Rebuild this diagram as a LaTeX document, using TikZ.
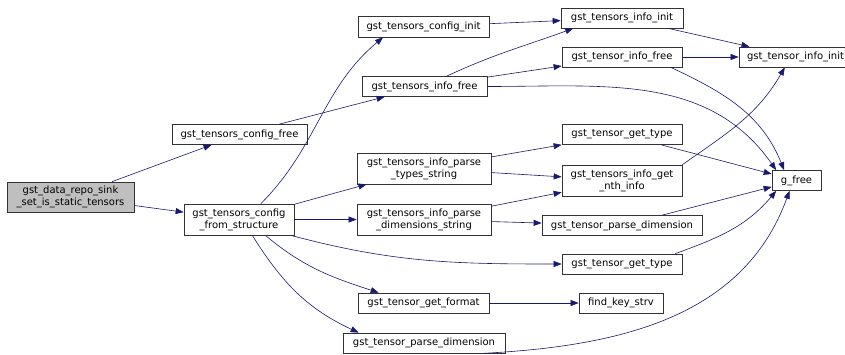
\documentclass[tikz,border=0pt]{standalone}
\usepackage{fontspec}
\setmainfont{DejaVu Sans}
\usetikzlibrary{arrows.meta}
\definecolor{edgeblue}{HTML}{191970}
\definecolor{rootgray}{HTML}{BFBFBF}

\begin{document}
\begin{tikzpicture}[x=1pt, y=1pt,
    fn/.style={draw=black!80, fill=white, line width=0.7pt, inner sep=0pt,
               font=\fontsize{10}{12}\selectfont, align=center},
    root/.style={fn, fill=rootgray},
    call/.style={draw=edgeblue, line width=0.6pt, -{Triangle[length=8pt, width=6pt]}},
]
\useasboundingbox (0,0) rectangle (845,-354);

% Caller (left)
\node[root, minimum width=127, minimum height=30] (sink) at (70.5,-197)
  {gst\_data\_repo\_sink\\\_set\_is\_static\_tensors};

% Second column
\node[fn, minimum width=135, minimum height=20] (cfree) at (239.5,-134.5) {gst\_tensors\_config\_free};
\node[fn, minimum width=110, minimum height=31] (fs) at (239,-219.5) {gst\_tensors\_config\\\_from\_structure};

% Third column
\node[fn, minimum width=131, minimum height=21] (cinit) at (423.5,-26.5) {gst\_tensors\_config\_init};
\node[fn, minimum width=125, minimum height=20] (tif) at (424.5,-86.5) {gst\_tensors\_info\_free};
\node[fn, minimum width=134, minimum height=31] (types) at (424,-168.5) {gst\_tensors\_info\_parse\\\_types\_string};
\node[fn, minimum width=134, minimum height=31] (dims) at (424,-219.5) {gst\_tensors\_info\_parse\\\_dimensions\_string};
\node[fn, minimum width=131, minimum height=20] (gfmt) at (423.5,-303) {gst\_tensor\_get\_format};
\node[fn, minimum width=162, minimum height=20] (pdb) at (424,-343) {gst\_tensor\_parse\_dimension};

% Fourth column
\node[fn, minimum width=122, minimum height=20] (tiinit) at (622,-18) {gst\_tensors\_info\_init};
\node[fn, minimum width=120, minimum height=20] (tifree) at (622,-57) {gst\_tensor\_info\_free};
\node[fn, minimum width=120, minimum height=20] (gta) at (622,-134.5) {gst\_tensor\_get\_type};
\node[fn, minimum width=120, minimum height=31] (nth) at (622,-180.5) {gst\_tensors\_info\_get\\\_nth\_info};
\node[fn, minimum width=160, minimum height=20] (pda) at (622,-225.5) {gst\_tensor\_parse\_dimension};
\node[fn, minimum width=120, minimum height=20] (gtb) at (622,-264) {gst\_tensor\_get\_type};
\node[fn, minimum width=84, minimum height=20] (fks) at (621,-303) {find\_key\_strv};

% Last column
\node[fn, minimum width=113, minimum height=20] (tinit) at (795.5,-57) {gst\_tensor\_info\_init};
\node[fn, minimum width=49, minimum height=20] (gfree) at (796.5,-180.5) {g\_free};

% Calls
\draw[call] (sink) -- (cfree);
\draw[call] (sink) -- (fs);
\draw[call] (cfree) -- (tif);
\draw[call] (fs.36) to[out=45, in=220] (cinit.195);
\draw[call] (fs) -- (types);
\draw[call] (fs) -- (dims);
\draw[call] (fs.-17) to[out=-15, in=180] (gtb.west);
\draw[call] (fs.-31) to[out=-40, in=162] (gfmt.167);
\draw[call] (fs.-50) to[out=-58, in=155] (pdb.171);
\draw[call] (cinit) -- (tiinit);
\draw[call] (tif.25) to[out=25, in=200] (tiinit.192);
\draw[call] (tif) -- (tifree);
\draw[call] (tif.east) to[out=0, in=125] (gfree.153);
\draw[call] (tiinit) -- (tinit);
\draw[call] (tifree) -- (tinit);
\draw[call] (tifree.-12) to[out=-25, in=112] (gfree.140);
\draw[call] (types) -- (gta);
\draw[call] (types) -- (nth);
\draw[call] (dims) -- (nth);
\draw[call] (dims) -- (pda);
\draw[call] (gta) -- (gfree);
\draw[call] (nth.north east) to[out=35, in=-120] (tinit.224);
\draw[call] (pda) -- (gfree);
\draw[call] (gtb.11) to[out=20, in=-130] (gfree.207);
\draw[call] (gfmt) -- (fks);
\draw[call] (pdb.-10) to[out=3, in=-110] (gfree.236);

\end{tikzpicture}
\end{document}
